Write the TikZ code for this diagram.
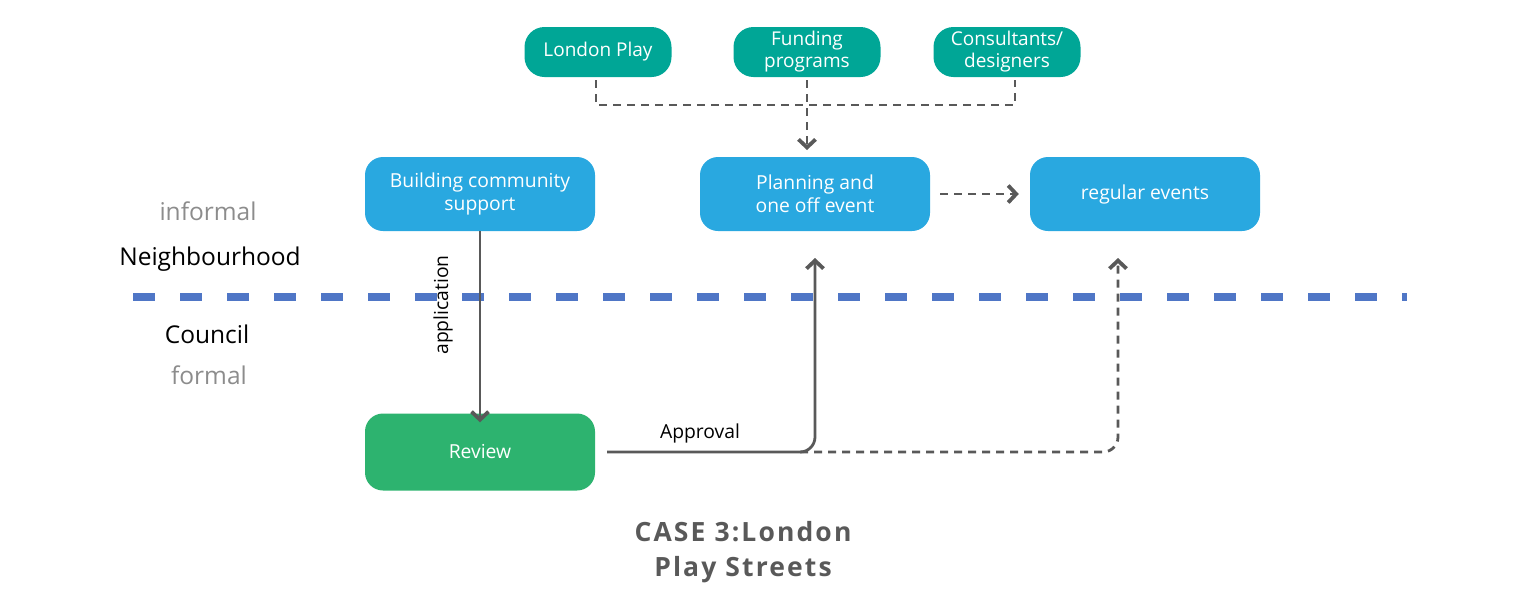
\documentclass[tikz,border=0pt]{standalone}
\usepackage{fontspec}
\setmainfont{Open Sans}
\newfontfamily\titlefont[LetterSpace=8]{Open Sans}
\usetikzlibrary{arrows.meta}
\definecolor{tealc}{RGB}{0,166,150}
\definecolor{bluec}{RGB}{41,168,224}
\definecolor{greenc}{RGB}{45,179,111}
\definecolor{linec}{RGB}{89,89,89}
\definecolor{sepc}{RGB}{79,118,198}
\definecolor{grayt}{RGB}{140,140,140}
\tikzset{
  x=1pt,y=-1pt,
  pill/.style={rounded corners=20pt,fill=tealc,text=white,minimum width=147pt,minimum height=50pt,align=center,font=\fontsize{19}{22}\selectfont,inner sep=0pt},
  bluebox/.style={rounded corners=18pt,fill=bluec,text=white,minimum width=230pt,minimum height=74pt,align=center,font=\fontsize{19.3}{23}\selectfont,inner sep=0pt},
  greenbox/.style={rounded corners=18pt,fill=greenc,text=white,minimum width=230pt,minimum height=77pt,align=center,font=\fontsize{19.3}{23}\selectfont,inner sep=0pt},
  tip/.style={-{Straight Barb[length=8pt,width=17pt,line width=3.8pt]}},
  conn/.style={draw=linec,line width=2.8pt},
  dconn/.style={draw=linec,line width=2.8pt,dash pattern=on 8pt off 6pt},
  side/.style={font=\fontsize{24.5}{26}\selectfont},
  lbl/.style={font=\fontsize{19.3}{20}\selectfont},
}
\begin{document}
\begin{tikzpicture}
\useasboundingbox (0,0) rectangle (1516,595);
% top pills
\node[pill] (lp) at (598,52) {London Play};
\node[pill] (fp) at (807,52) {Funding\\programs};
\node[pill] (cd) at (1007,52) {Consultants/\\designers};
% blue boxes
\node[bluebox] (bcs) at (480,194) {Building community\\support};
\node[bluebox] (pl) at (815,194) {Planning and\\one off event};
\node[bluebox] (re) at (1145,194) {regular events};
\node[greenbox] (rv) at (480,452) {Review};
% separator
\coordinate (s1) at (133,297);
\coordinate (s2) at (1407,297);
\draw[sepc,line width=8pt,dash pattern=on 22pt off 25pt] (s1) -- (s2);
% side labels
\node[side,text=grayt] (inf) at (208,211) {informal};
\node[side] (nb) at (210,259) {Neighbourhood};
\node[side] (co) at (207,334) {Council};
\node[side,text=grayt] (fo) at (209,375) {formal};
% top dashed merge
\coordinate (j) at (807,105);
\coordinate (jl) at (596,105);
\coordinate (jr) at (1015,105);
\draw[dconn] (lp.south -| jl) ++(0,3) -- (jl) -- (jr) -- ++(0,-25);
\draw[dconn,tip] (fp.south) ++(0,3) -- (807,150);
% planning -> regular
\draw[dconn,tip] ([xshift=10pt]pl.east) -- ([xshift=-11pt]re.west);
% application
\draw[conn,tip] (bcs.south) -- ([yshift=-9pt]rv.north);
\node[lbl,rotate=90] (app) at (443,305) {application};
% approval
\coordinate (a0) at (607,452);
\coordinate (ac) at (815,452);
\draw[conn,tip,rounded corners=15pt] (a0) -- (ac) -- (815,258);
\node[lbl] (apl) at (700,433) {Approval};
\draw[dconn,tip,rounded corners=15pt] (800,452) -- (1118,452) -- (1118,258);
% title
\node[text=linec,align=center,font=\titlefont\bfseries\fontsize{26.5}{35}\selectfont] (title) at (743,552) {CASE 3:London\\Play Streets};
\end{tikzpicture}
\end{document}
